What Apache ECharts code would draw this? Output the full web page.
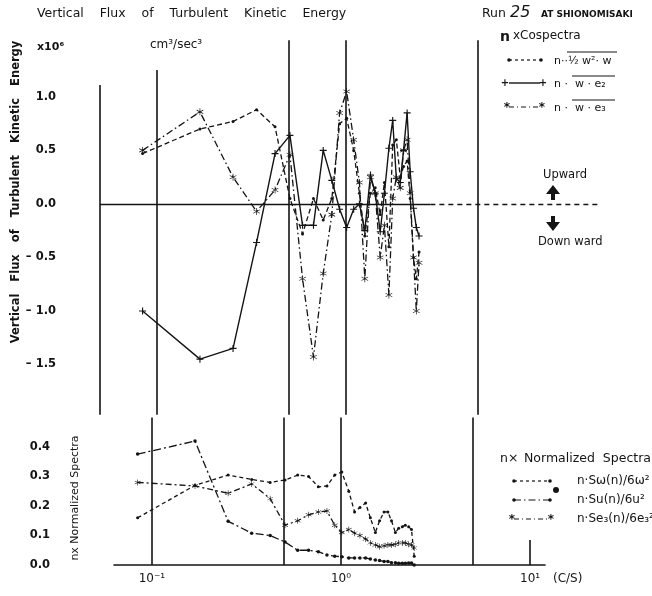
<!DOCTYPE html>
<html><head><meta charset="utf-8">
<script src="https://cdn.jsdelivr.net/npm/echarts@6/dist/echarts.min.js"></script>
<style>html,body{margin:0;padding:0;background:#fff}#c{width:652px;height:596px}</style>
</head><body><div id="c"></div>
<script>
// Frequencies (c/s) of the spectral estimates
const freq = [0.084,0.169,0.253,0.337,0.422,0.506,0.590,0.674,0.759,0.843,0.927,1.01,1.10,1.18,1.26,1.35,1.43,1.52,1.60,1.69,1.77,1.85,1.94,2.02,2.11,2.19,2.28,2.36,2.44];
// n x Cospectra (x10^6 cm^3/sec^3)
const coQ2W = [0.47,0.70,0.77,0.88,0.72,0.05,-0.28,0.05,-0.15,0.05,0.75,0.80,0.50,0.10,-0.30,0.10,0.15,-0.10,0.20,-0.40,0.55,0.60,0.25,0.35,0.40,0.05,-0.50,-0.70,-0.45];
const coWE2 = [-1.00,-1.45,-1.35,-0.36,0.47,0.64,-0.20,-0.20,0.50,0.22,-0.05,-0.22,-0.05,0.00,-0.25,0.27,0.10,-0.26,0.10,0.52,0.78,0.24,0.20,0.50,0.85,0.30,-0.04,-0.22,-0.30];
const coWE3 = [0.50,0.86,0.25,-0.07,0.13,0.46,-0.70,-1.43,-0.65,-0.10,0.85,1.05,0.60,0.20,-0.70,0.25,0.10,-0.50,-0.20,-0.85,0.05,0.25,0.15,0.50,0.60,0.10,-0.50,-1.00,-0.55];
// n x Normalized Spectra
const spSw  = [0.16,0.27,0.305,0.29,0.28,0.288,0.305,0.30,0.265,0.268,0.305,0.315,0.25,0.18,0.195,0.21,0.16,0.11,0.15,0.18,0.18,0.15,0.11,0.125,0.13,0.135,0.13,0.12,0.03];
const spSu  = [0.376,0.42,0.148,0.108,0.10,0.078,0.05,0.05,0.045,0.034,0.03,0.028,0.024,0.024,0.024,0.024,0.02,0.017,0.015,0.012,0.012,0.008,0.008,0.006,0.006,0.006,0.007,0.007,0.0];
const spSe3 = [0.28,0.268,0.243,0.275,0.225,0.135,0.15,0.17,0.18,0.183,0.135,0.11,0.12,0.108,0.10,0.088,0.075,0.068,0.062,0.065,0.068,0.068,0.07,0.075,0.075,0.075,0.07,0.068,0.058];
// Tick labels
const upperTicks = [1.0,0.5,0.0,-0.5,-1.0,-1.5];
const lowerTicks = [0.0,0.1,0.2,0.3,0.4];
const xTickValues = [0.1,1,10];
const xTickLabels = {'0.1':'10⁻¹','1':'10⁰','10':'10¹'};

const INK = '#141414';
const FONT = 'DejaVu Sans';
const PLUS = 'path://M4.2,0h1.6v4.2h4.2v1.6h-4.2v4.2h-1.6v-4.2h-4.2v-1.6h4.2z';
const STAR = 'path://M9.1,0L10.9,0L10.9,20L9.1,20Z M0.89,5.78L1.79,4.22L19.11,14.22L18.21,15.78Z M18.21,4.22L19.11,5.78L1.79,15.78L0.89,14.22Z';

const pairs = arr => freq.map((f,i)=>[f,arr[i]]);
const seg = (x1,y1,x2,y2,ls) => [{coord:[x1,y1],lineStyle:Object.assign({color:INK,width:1.6,type:'solid'},ls||{})},{coord:[x2,y2]}];
const fmtUpper = v => { const r=Math.round(v*10)/10; if(!upperTicks.some(t=>Math.abs(t-r)<1e-6)) return ''; return r<0 ? '– '+Math.abs(r).toFixed(1) : r.toFixed(1); };
const fmtLower = v => { const r=Math.round(v*10)/10; return lowerTicks.some(t=>Math.abs(t-r)<1e-6) ? r.toFixed(1) : ''; };

const chart = echarts.init(document.getElementById('c'), null, {renderer:'canvas'});
const txt = (x,y,text,opt,el) => Object.assign({type:'text', x, y, silent:true, style:Object.assign({text, fill:INK, font:'12px "'+FONT+'"', align:'left', verticalAlign:'middle'}, opt||{})}, el||{});
const ln = (x1,y1,x2,y2,opt) => ({type:'line', silent:true, shape:{x1,y1,x2,y2}, style:Object.assign({stroke:INK, lineWidth:1.2}, opt||{})});
const dot = (x,y,r) => ({type:'circle', silent:true, shape:{cx:x,cy:y,r:r||1.8}, style:{fill:INK}});

const option = {
  backgroundColor:'#fff',
  animation:false,
  grid:[
    {left:100, top:38, width:510, height:380},
    {left:114, top:417.5, width:431, height:147.5}
  ],
  xAxis:[
    {type:'log', gridIndex:0, logBase:10, min:0.05, max:25, axisLine:{show:false}, axisTick:{show:false}, axisLabel:{show:false}, splitLine:{show:false}},
    {type:'log', gridIndex:1, logBase:10, min:0.063, max:12,
      axisLine:{show:true, lineStyle:{color:INK, width:1.6}},
      axisTick:{show:true, inside:true, length:25, customValues:[10], lineStyle:{color:INK,width:1.6}},
      axisLabel:{show:true, customValues:xTickValues, formatter:v=>{for(const k of xTickValues){ if(Math.abs(v-k)/k<1e-3) return xTickLabels[String(k)]; } return '';}, color:INK, fontFamily:FONT, fontSize:12, margin:8},
      splitLine:{show:false}}
  ],
  yAxis:[
    {type:'value', gridIndex:0, min:-2, max:1.55, interval:0.5, axisLine:{show:false}, axisTick:{show:false}, splitLine:{show:false},
      axisLabel:{formatter:fmtUpper, color:INK, fontFamily:FONT, fontSize:11.5, fontWeight:'bold', margin:44, showMaxLabel:false}},
    {type:'value', gridIndex:1, min:0, max:0.5, interval:0.1, axisLine:{show:false}, axisTick:{show:false}, splitLine:{show:false},
      axisLabel:{formatter:fmtLower, color:INK, fontFamily:FONT, fontSize:11.5, fontWeight:'bold', margin:64, showMaxLabel:false}}
  ],
  series:[
    {name:'q2w', type:'line', xAxisIndex:0, yAxisIndex:0, data:pairs(coQ2W), clip:false,
      symbol:'circle', symbolSize:3, itemStyle:{color:INK}, lineStyle:{color:INK, width:1.3, type:[5,3]},
      markLine:{silent:true, symbol:'none', label:{show:false}, data:[
        seg(0.05,1.11,0.05,-1.97),
        seg(0.1,1.25,0.1,-1.97),
        seg(0.5,1.53,0.5,-1.97),
        seg(1,1.53,1,-1.97),
        seg(5,1.53,5,-1.97),
        seg(0.05,0,2.8,0,{width:1.3}),
        seg(2.8,0,22,0,{width:1.3,type:[5,4]})
      ]}},
    {name:'we2', type:'line', xAxisIndex:0, yAxisIndex:0, data:pairs(coWE2), clip:false,
      symbol:PLUS, symbolSize:7, itemStyle:{color:INK}, lineStyle:{color:INK, width:1.4, type:'solid'}},
    {name:'we3', type:'line', xAxisIndex:0, yAxisIndex:0, data:pairs(coWE3), clip:false,
      symbol:STAR, symbolSize:7, itemStyle:{color:INK}, lineStyle:{color:INK, width:1.3, type:[7,3,1.5,3]}},
    {name:'Sw', type:'line', xAxisIndex:1, yAxisIndex:1, data:pairs(spSw), clip:false,
      symbol:'circle', symbolSize:3, itemStyle:{color:INK}, lineStyle:{color:INK, width:1.3, type:[4,3]},
      markLine:{silent:true, symbol:'none', label:{show:false}, data:[
        seg(0.1,0.5,0.1,0),
        seg(0.5,0.5,0.5,0),
        seg(1,0.5,1,0),
        seg(5,0.5,5,0)
      ]}},
    {name:'Su', type:'line', xAxisIndex:1, yAxisIndex:1, data:pairs(spSu), clip:false,
      symbol:'circle', symbolSize:3.5, itemStyle:{color:INK}, lineStyle:{color:INK, width:1.3, type:[8,3,2,3]}},
    {name:'Se3', type:'line', xAxisIndex:1, yAxisIndex:1, data:pairs(spSe3), clip:false,
      symbol:STAR, symbolSize:6, itemStyle:{color:INK}, lineStyle:{color:INK, width:1.3, type:[6,3,2,3]}}
  ],
  graphic:[
    txt(37,14,'Vertical    Flux    of    Turbulent    Kinetic    Energy',{font:'12.5px "'+FONT+'"'}),
    txt(482,14,'Run',{font:'12.5px "'+FONT+'"'}),
    txt(510,13,'25',{font:'italic 16px "'+FONT+'"'}),
    txt(541,15,'AT SHIONOMISAKI',{font:'bold 9px "'+FONT+'"'}),
    txt(37,47,'x10⁶',{font:'bold 11px "'+FONT+'"'}),
    txt(150,45,'cm³/sec³',{font:'12px "'+FONT+'"'}),
    txt(16,192,'Vertical   Flux   of   Turbulent   Kinetic   Energy',{font:'bold 11.5px "'+FONT+'"', align:'center'},{rotation:Math.PI/2}),
    txt(75,498,'nx Normalized Spectra',{font:'11px "'+FONT+'"', align:'center'},{rotation:Math.PI/2}),
    // upper legend
    txt(500,37,'n',{font:'bold 14px "'+FONT+'"'}),
    txt(513,36,'xCospectra',{font:'12px "'+FONT+'"'}),
    ln(509,60,540,60,{lineDash:[3,3]}), dot(509,60), dot(541,60),
    txt(554,61,'n··½ w²· w',{font:'11px "'+FONT+'"'}),
    ln(567,52,617,52,{lineWidth:1}),
    ln(509,83,540,83,{lineWidth:1.4}),
    txt(505,83,'+',{font:'bold 10px "'+FONT+'"', align:'center'}), txt(543,83,'+',{font:'bold 10px "'+FONT+'"', align:'center'}),
    txt(554,84,'n ·  w · e₂',{font:'11px "'+FONT+'"'}),
    ln(572,76,615,76,{lineWidth:1}),
    ln(509,107,540,107,{lineDash:[5,3,1,3]}),
    txt(507,108,'*',{font:'bold 12px "'+FONT+'"', align:'center'}), txt(542,108,'*',{font:'bold 12px "'+FONT+'"', align:'center'}),
    txt(554,108,'n ·  w · e₃',{font:'11px "'+FONT+'"'}),
    ln(572,100,615,100,{lineWidth:1}),
    // upward / downward
    txt(543,175,'Upward',{font:'11.5px "'+FONT+'"'}),
    {type:'polygon', silent:true, shape:{points:[[553,185],[546,194],[551,194],[551,200],[555,200],[555,194],[560,194]]}, style:{fill:INK}},
    {type:'polygon', silent:true, shape:{points:[[553,231],[546,222],[551,222],[551,216],[555,216],[555,222],[560,222]]}, style:{fill:INK}},
    txt(538,242,'Down ward',{font:'11.5px "'+FONT+'"'}),
    // lower legend
    txt(500,459,'n×',{font:'12.5px "'+FONT+'"'}),
    txt(524,459,'Normalized  Spectra',{font:'12.5px "'+FONT+'"'}),
    ln(514,481,550,481,{lineDash:[3,3]}), dot(514,481), dot(550,481),
    dot(556,490,3),
    txt(577,481,'n·Sω(n)/6ω²',{font:'12px "'+FONT+'"'}),
    ln(514,500,550,500,{lineDash:[7,3,1.5,3]}), dot(514,500), dot(550,500),
    txt(577,500,'n·Su(n)/6u²',{font:'12px "'+FONT+'"'}),
    ln(514,519,550,519,{lineDash:[5,3,1,3]}),
    txt(512,520,'*',{font:'bold 12px "'+FONT+'"', align:'center'}), txt(551,520,'*',{font:'bold 12px "'+FONT+'"', align:'center'}),
    txt(577,519,'n·Se₃(n)/6e₃²',{font:'12px "'+FONT+'"'}),
    txt(553,579,'(C/S)',{font:'12px "'+FONT+'"'})
  ]
};
chart.setOption(option);
</script>
</body></html>
